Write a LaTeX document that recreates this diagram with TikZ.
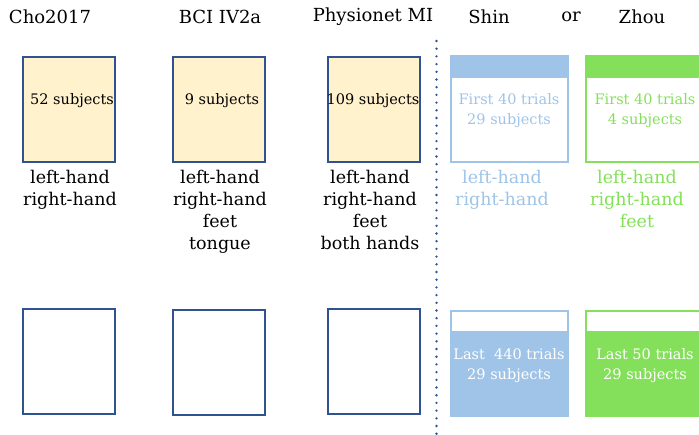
\documentclass[tikz,border=0pt]{standalone}
\usepackage{fontspec}
\setmainfont{DejaVu Serif}
\usepackage{xcolor}
\usetikzlibrary{positioning}

\definecolor{setblue}{HTML}{2F5390}
\definecolor{cream}{HTML}{FFF2CC}
\definecolor{shinblue}{HTML}{9FC4E8}
\definecolor{zhougreen}{HTML}{84E05A}

\begin{document}
\begin{tikzpicture}[x=1pt, y=-1pt,
    dset/.style={rectangle, draw=setblue, line width=1.8pt, minimum width=92pt, minimum height=105pt, inner sep=0pt},
    title/.style={font=\fontsize{18}{20}\selectfont, anchor=center},
    subj/.style={font=\fontsize{14.5}{20}\selectfont, align=center, inner sep=0pt},
    classes/.style={font=\fontsize{17.5}{22}\selectfont, align=center, anchor=north, inner sep=0pt},
    sep/.style={draw=setblue, line width=2.6pt, line cap=round, dash pattern=on 0pt off 7.7pt}
]
    \useasboundingbox (0,0) rectangle (699,434);

    % Titles
    \node[title] (tcho) at (50,17) {Cho2017};
    \node[title] (tbci) at (220,17) {BCI IV2a};
    \node[title] (tphy) at (373,17) {Physionet MI};
    \node[title] (tshin) at (489,17) {Shin};
    \node[title] (tor) at (571,17) {or};
    \node[title] (tzhou) at (642,17) {Zhou};

    % Source datasets
    \node[dset, fill=cream] (cho) at (69,109.5) {};
    \node[dset, fill=cream] (bci) at (219,109.5) {};
    \node[dset, fill=cream] (phy) at (374,109.5) {};
    \node[subj] at (72,101) {52 subjects};
    \node[subj] at (222,101) {9 subjects};
    \node[subj] at (373,101) {109 subjects};

    \node[classes] (ccho) at (70,170) {left-hand\\right-hand};
    \node[classes] (cbci) at (220,170) {left-hand\\right-hand\\feet\\tongue};
    \node[classes] (cphy) at (370,170) {left-hand\\right-hand\\feet\\both hands};

    \node[dset] (cho2) at (69,361.5) {};
    \node[dset] (bci2) at (219,362.5) {};
    \node[dset] (phy2) at (374,361.5) {};

    % Separator
    \coordinate (septop) at (436.5,41);
    \coordinate (sepbot) at (436.5,434);
    \draw[sep] (septop) -- (sepbot);

    % Target datasets, first trials
    \node[dset, draw=shinblue, minimum width=117pt, minimum height=106pt] (shin) at (509.5,109) {};
    \fill[shinblue] (shin.north west) rectangle ([yshift=-23pt]shin.north east);
    \node[dset, draw=zhougreen, minimum width=117pt, minimum height=106pt] (zhou) at (644.5,109) {};
    \fill[zhougreen] (zhou.north west) rectangle ([yshift=-23pt]zhou.north east);

    \node[subj, text=shinblue] at (509,111) {First 40 trials\\29 subjects};
    \node[subj, text=zhougreen] at (645,111) {First 40 trials\\4 subjects};

    \node[classes, text=shinblue] (cshin) at (502,170) {left-hand\\right-hand};
    \node[classes, text=zhougreen] (czhou) at (637,170) {left-hand\\right-hand\\feet};

    % Target datasets, last trials
    \node[dset, draw=shinblue, fill=shinblue, minimum width=117pt, minimum height=106pt] (shin2) at (509.5,363.5) {};
    \fill[white] ([xshift=2pt,yshift=-2pt]shin2.north west) rectangle ([xshift=-2pt,yshift=-21pt]shin2.north east);
    \node[dset, draw=zhougreen, fill=zhougreen, minimum width=117pt, minimum height=106pt] (zhou2) at (644.5,363.5) {};
    \fill[white] ([xshift=2pt,yshift=-2pt]zhou2.north west) rectangle ([xshift=-2pt,yshift=-21pt]zhou2.north east);

    \node[subj, text=white] at (509,366) {Last \ 440 trials\\29 subjects};
    \node[subj, text=white] at (645,366) {Last 50 trials\\29 subjects};
\end{tikzpicture}
\end{document}
